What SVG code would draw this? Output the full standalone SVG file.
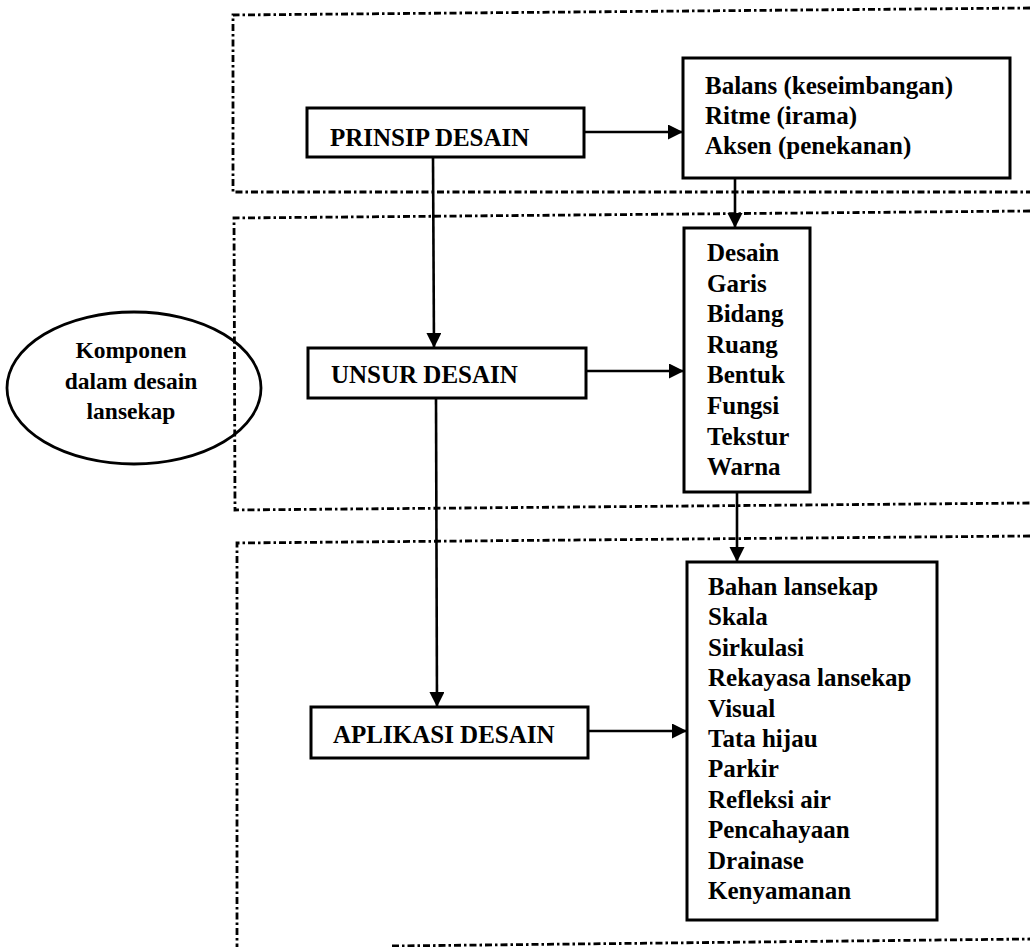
<svg xmlns="http://www.w3.org/2000/svg" width="1030" height="947" viewBox="0 0 1030 947">
<style>
.region{fill:none;stroke:#000;stroke-width:2.8;stroke-dasharray:7 3 2.5 3}
.box{fill:#fff;stroke:#000;stroke-width:3}
.conn{fill:none;stroke:#000;stroke-width:2.6}
text{font-family:"Liberation Serif","Times New Roman",serif;font-weight:bold;font-size:25px;fill:#000}
.mid{text-anchor:middle;font-size:23.5px}
</style>
<defs>
<marker id="arr" markerUnits="userSpaceOnUse" markerWidth="17" markerHeight="16" refX="15" refY="7.5" orient="auto">
<path d="M0,0 L15,7.5 L0,15 Z" fill="#000"/>
</marker>
</defs>
<rect width="1030" height="947" fill="#fff"/>
<g id="regions">
<path class="region" d="M1030,8 L233,15 L233,192 L1030,192"/>
<path class="region" d="M1030,211 L234,218 L235,510 L1030,503"/>
<path class="region" d="M1030,536 L237,543 L237,947"/>
<path class="region" d="M392,946 L1030,939"/>
</g>
<g id="komponen">
<ellipse cx="134" cy="388" rx="127" ry="76" fill="none" stroke="#000" stroke-width="2.8"/>
<text class="mid" x="131" y="358">Komponen</text>
<text class="mid" x="131" y="389">dalam desain</text>
<text class="mid" x="131" y="419">lansekap</text>
</g>
<g id="connectors">
<line class="conn" x1="584" y1="132" x2="683" y2="132" marker-end="url(#arr)"/>
<line class="conn" x1="433" y1="157" x2="434" y2="348" marker-end="url(#arr)"/>
<line class="conn" x1="735" y1="178" x2="735" y2="228" marker-end="url(#arr)"/>
<line class="conn" x1="586" y1="371" x2="684" y2="371" marker-end="url(#arr)"/>
<line class="conn" x1="436" y1="398" x2="437" y2="707" marker-end="url(#arr)"/>
<line class="conn" x1="737" y1="492" x2="737" y2="562" marker-end="url(#arr)"/>
<line class="conn" x1="588" y1="731" x2="687" y2="731" marker-end="url(#arr)"/>
</g>
<g id="prinsip">
<rect class="box" x="307" y="108" width="277" height="49"/>
<text x="330" y="146">PRINSIP DESAIN</text>
</g>
<g id="prinsip-list">
<rect class="box" x="683" y="58" width="327" height="120"/>
<text x="705" y="94">Balans (keseimbangan)</text>
<text x="705" y="124">Ritme (irama)</text>
<text x="705" y="154">Aksen (penekanan)</text>
</g>
<g id="unsur">
<rect class="box" x="308" y="348" width="278" height="50"/>
<text x="331" y="383">UNSUR DESAIN</text>
</g>
<g id="unsur-list">
<rect class="box" x="684" y="228" width="126" height="264"/>
<text x="707" y="261">Desain</text>
<text x="707" y="291.6">Garis</text>
<text x="707" y="322.2">Bidang</text>
<text x="707" y="352.8">Ruang</text>
<text x="707" y="383.4">Bentuk</text>
<text x="707" y="414">Fungsi</text>
<text x="707" y="444.6">Tekstur</text>
<text x="707" y="475.2">Warna</text>
</g>
<g id="aplikasi">
<rect class="box" x="311" y="707" width="277" height="51"/>
<text x="333" y="743">APLIKASI DESAIN</text>
</g>
<g id="aplikasi-list">
<rect class="box" x="687" y="562" width="250" height="358"/>
<text x="708" y="595">Bahan lansekap</text>
<text x="708" y="625.4">Skala</text>
<text x="708" y="655.8">Sirkulasi</text>
<text x="708" y="686.2">Rekayasa lansekap</text>
<text x="708" y="716.6">Visual</text>
<text x="708" y="747">Tata hijau</text>
<text x="708" y="777.4">Parkir</text>
<text x="708" y="807.8">Refleksi air</text>
<text x="708" y="838.2">Pencahayaan</text>
<text x="708" y="868.6">Drainase</text>
<text x="708" y="899">Kenyamanan</text>
</g>
</svg>
